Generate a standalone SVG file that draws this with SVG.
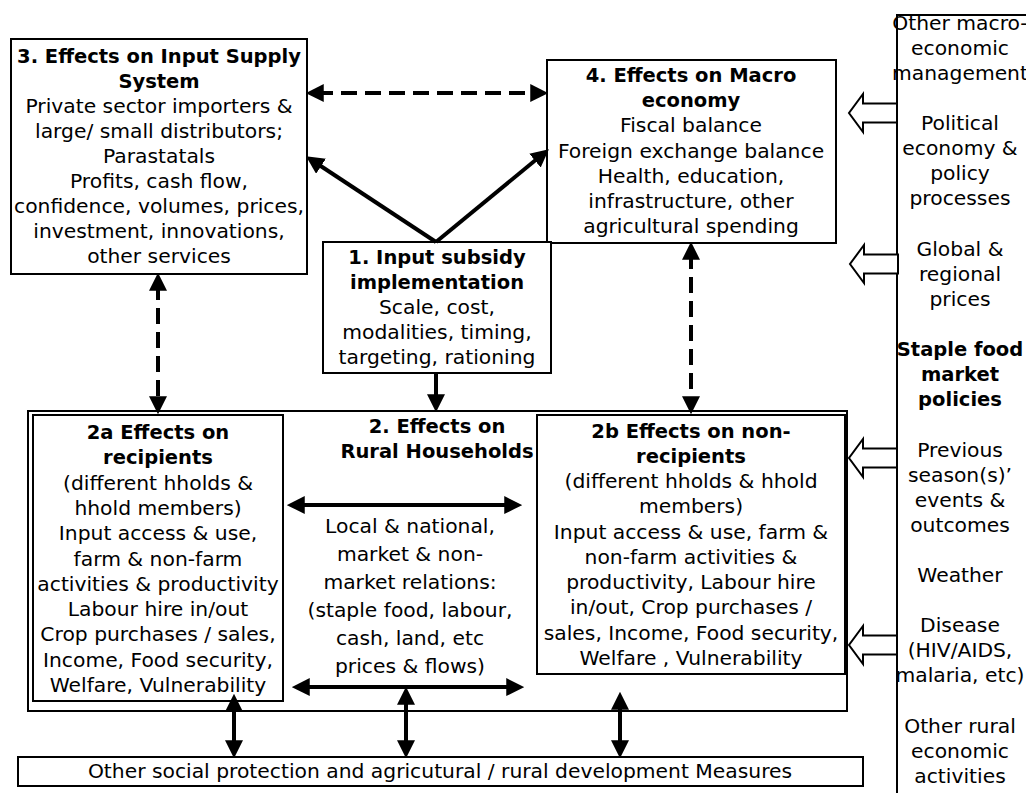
<svg xmlns="http://www.w3.org/2000/svg" xmlns:xlink="http://www.w3.org/1999/xlink" width="1026" height="793" viewBox="0 0 1026 793">
<style>
  .box { fill: #fff; stroke: #000; stroke-width: 2; }
  .nobox { fill: none; stroke: #000; stroke-width: 2; }
  text { font-family: "DejaVu Sans", "Liberation Sans", sans-serif; font-size: 20.3px; fill: #000; text-anchor: middle; }
  .b { font-weight: bold; font-size: 19.5px; }
  .conn { stroke: #000; stroke-width: 4; fill: none; }
  .dash { stroke-dasharray: 16 8; }
  .hollow { fill: #fff; stroke: #000; stroke-width: 2; stroke-linejoin: miter; }
</style>
<defs>
  <marker id="ah" markerUnits="userSpaceOnUse" markerWidth="18" markerHeight="18" refX="6" refY="8" orient="auto-start-reverse" viewBox="0 0 16 16">
    <path d="M0,0 L16,8 L0,16 z" fill="#000"/>
  </marker>
  <polygon id="hollowArrow" class="hollow" points="897,-9.5 863,-9.5 863,-19 849,0 863,19 863,9.5 897,9.5"/>
</defs>
<rect width="1026" height="793" fill="#fff"/>

<g id="node-3">
  <rect class="box" x="11" y="39" width="296" height="235"/>
  <text x="159" y="63" class="b">3. Effects on Input Supply</text>
  <text x="159" y="88" class="b">System</text>
  <text x="159" y="113">Private sector importers &amp;</text>
  <text x="159" y="138">large/ small distributors;</text>
  <text x="159" y="163">Parastatals</text>
  <text x="159" y="188">Profits, cash flow,</text>
  <text x="159" y="213">confidence, volumes, prices,</text>
  <text x="159" y="238">investment, innovations,</text>
  <text x="159" y="263">other services</text>
</g>

<g id="node-4">
  <rect class="box" x="547" y="60" width="289" height="183"/>
  <text x="691" y="82" class="b">4. Effects on Macro</text>
  <text x="691" y="107" class="b">economy</text>
  <text x="691" y="132">Fiscal balance</text>
  <text x="691" y="158">Foreign exchange balance</text>
  <text x="691" y="183">Health, education,</text>
  <text x="691" y="208">infrastructure, other</text>
  <text x="691" y="233">agricultural spending</text>
</g>

<g id="node-1">
  <rect class="box" x="323" y="242" width="228" height="131"/>
  <text x="437" y="264" class="b">1. Input subsidy</text>
  <text x="437" y="289" class="b">implementation</text>
  <text x="437" y="314">Scale, cost,</text>
  <text x="437" y="339">modalities, timing,</text>
  <text x="437" y="364">targeting, rationing</text>
</g>

<g id="node-2">
  <rect class="nobox" x="28" y="411" width="819" height="300"/>
  <text x="437" y="433" class="b">2. Effects on</text>
  <text x="437" y="458" class="b">Rural Households</text>
  <text x="410" y="533">Local &amp; national,</text>
  <text x="410" y="561">market &amp; non-</text>
  <text x="410" y="589">market relations:</text>
  <text x="410" y="617">(staple food, labour,</text>
  <text x="410" y="645">cash, land, etc</text>
  <text x="410" y="673">prices &amp; flows)</text>
</g>

<g id="node-2a">
  <rect class="box" x="33" y="415" width="250" height="286"/>
  <text x="158" y="439" class="b">2a Effects on</text>
  <text x="158" y="464" class="b">recipients</text>
  <text x="158" y="490">(different hholds &amp;</text>
  <text x="158" y="515">hhold members)</text>
  <text x="158" y="540">Input access &amp; use,</text>
  <text x="158" y="566">farm &amp; non-farm</text>
  <text x="158" y="591">activities &amp; productivity</text>
  <text x="158" y="616">Labour hire in/out</text>
  <text x="158" y="641">Crop purchases / sales,</text>
  <text x="158" y="667">Income, Food security,</text>
  <text x="158" y="692">Welfare, Vulnerability</text>
</g>

<g id="node-2b">
  <rect class="box" x="537" y="415" width="308" height="259"/>
  <text x="691" y="438" class="b">2b Effects on non-</text>
  <text x="691" y="463" class="b">recipients</text>
  <text x="691" y="488">(different hholds &amp; hhold</text>
  <text x="691" y="513">members)</text>
  <text x="691" y="539">Input access &amp; use, farm &amp;</text>
  <text x="691" y="564">non-farm activities &amp;</text>
  <text x="691" y="589">productivity, Labour hire</text>
  <text x="691" y="614">in/out, Crop purchases /</text>
  <text x="691" y="640">sales, Income, Food security,</text>
  <text x="691" y="665">Welfare , Vulnerability</text>
</g>

<g id="node-other-measures">
  <rect class="box" x="18" y="757" width="845" height="29"/>
  <text x="440" y="778">Other social protection and agricutural / rural development Measures</text>
</g>

<g id="node-context">
  <path class="nobox" d="M1027,15 H897 V794"/>
  <text x="960" y="30">Other macro-</text>
  <text x="960" y="55">economic</text>
  <text x="960" y="80">management</text>
  <text x="960" y="130">Political</text>
  <text x="960" y="155">economy &amp;</text>
  <text x="960" y="180">policy</text>
  <text x="960" y="205">processes</text>
  <text x="960" y="256">Global &amp;</text>
  <text x="960" y="281">regional</text>
  <text x="960" y="306">prices</text>
  <text x="960" y="356" class="b">Staple  food</text>
  <text x="960" y="381" class="b">market</text>
  <text x="960" y="406" class="b">policies</text>
  <text x="960" y="457">Previous</text>
  <text x="960" y="482">season(s)’</text>
  <text x="960" y="507">events &amp;</text>
  <text x="960" y="532">outcomes</text>
  <text x="960" y="582">Weather</text>
  <text x="960" y="632">Disease</text>
  <text x="960" y="657">(HIV/AIDS,</text>
  <text x="960" y="682">malaria, etc)</text>
  <text x="960" y="733">Other rural</text>
  <text x="960" y="758">economic</text>
  <text x="960" y="783">activities</text>
</g>

<g id="connectors">
  <line class="conn dash" x1="317" y1="93" x2="537" y2="93" marker-start="url(#ah)" marker-end="url(#ah)"/>
  <line class="conn" x1="436" y1="242" x2="315.4" y2="162.5" marker-end="url(#ah)"/>
  <line class="conn" x1="436" y1="242" x2="540.2" y2="156.3" marker-end="url(#ah)"/>
  <line class="conn" x1="436" y1="373" x2="436" y2="401" marker-end="url(#ah)"/>
  <line class="conn dash" x1="158" y1="284" x2="158" y2="403" marker-start="url(#ah)" marker-end="url(#ah)"/>
  <line class="conn dash" x1="691" y1="253" x2="691" y2="403" marker-start="url(#ah)" marker-end="url(#ah)"/>
  <line class="conn" x1="298" y1="505" x2="511" y2="505" marker-start="url(#ah)" marker-end="url(#ah)"/>
  <line class="conn" x1="303" y1="687" x2="513" y2="687" marker-start="url(#ah)" marker-end="url(#ah)"/>
  <line class="conn" x1="234" y1="705" x2="234" y2="747" marker-start="url(#ah)" marker-end="url(#ah)"/>
  <line class="conn" x1="406" y1="698" x2="406" y2="747" marker-start="url(#ah)" marker-end="url(#ah)"/>
  <line class="conn" x1="620" y1="703" x2="620" y2="747" marker-start="url(#ah)" marker-end="url(#ah)"/>
  <use xlink:href="#hollowArrow" href="#hollowArrow" transform="translate(0,113)"/>
  <use xlink:href="#hollowArrow" href="#hollowArrow" transform="translate(1,264)"/>
  <use xlink:href="#hollowArrow" href="#hollowArrow" transform="translate(0,458)"/>
  <use xlink:href="#hollowArrow" href="#hollowArrow" transform="translate(0,645)"/>
</g>
</svg>
